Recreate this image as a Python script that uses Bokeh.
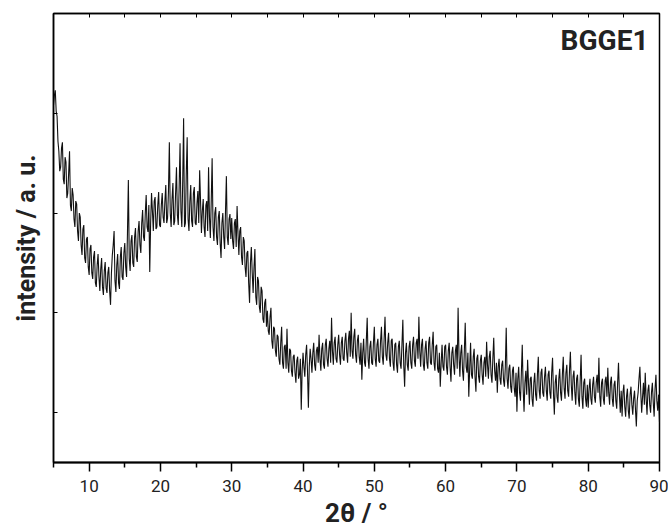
from bokeh.plotting import figure
from bokeh.models import Range1d, LinearAxis, FixedTicker, Label
from bokeh.embed import file_html
from bokeh.resources import INLINE

# sampling grid of the pattern (degrees 2-theta)
two_theta_start = 5.0
two_theta_step = 0.125

# intensity (arbitrary units) at 5.00, 5.25, 5.50 ... 90.00 deg
intensity_main = [
    358, 373, 347, 312, 296, 321, 279, 301, 270, 312, 252, 268, 236, 259, 222, 246, 208, 238, 200, 226,
    188, 218, 184, 212, 176, 209, 172, 205, 168, 201, 170, 196, 158, 208, 232, 171, 209, 174, 216, 183,
    220, 186, 283, 192, 228, 196, 235, 201, 242, 210, 253, 222, 268, 231, 191, 270, 232, 266, 236, 271,
    236, 270, 240, 278, 245, 321, 236, 280, 242, 296, 238, 320, 236, 345, 240, 326, 232, 278, 236, 276,
    238, 272, 293, 230, 264, 226, 262, 296, 225, 305, 222, 256, 218, 252, 205, 250, 214, 287, 218, 249,
    245, 214, 244, 257, 208, 236, 198, 222, 186, 212, 160, 216, 170, 214, 158, 182, 150, 172, 140, 164,
    152, 128, 155, 114, 134, 106, 126, 98, 136, 94, 118, 134, 90, 112, 86, 108, 80, 106, 88, 53,
    110, 86, 118, 55, 114, 90, 120, 92, 116, 128, 92, 120, 94, 124, 96, 122, 145, 98, 126, 100,
    128, 98, 126, 102, 130, 100, 132, 150, 104, 134, 100, 128, 98, 83, 124, 96, 145, 94, 122, 98,
    136, 96, 124, 100, 136, 98, 146, 102, 130, 96, 124, 92, 120, 90, 122, 94, 143, 76, 120, 92,
    122, 94, 126, 96, 124, 146, 96, 124, 92, 122, 94, 126, 98, 131, 92, 118, 90, 76, 118, 92,
    118, 88, 120, 81, 116, 88, 118, 155, 86, 118, 82, 140, 90, 66, 120, 84, 114, 71, 108, 80,
    108, 78, 106, 121, 84, 112, 80, 125, 82, 70, 104, 78, 102, 76, 135, 74, 98, 70, 96, 66,
    51, 96, 62, 118, 51, 92, 103, 58, 86, 56, 90, 62, 106, 64, 94, 66, 96, 62, 92, 64,
    105, 48, 88, 60, 94, 62, 106, 64, 98, 66, 111, 62, 92, 58, 88, 56, 108, 54, 84, 56,
    55, 84, 58, 86, 60, 88, 105, 56, 84, 58, 86, 95, 58, 86, 56, 82, 54, 100, 50, 46,
    78, 46, 74, 44, 76, 48, 72, 36, 70, 96, 50, 80, 90, 48, 78, 50, 80, 46, 88, 52, 40,
]

# intensity read at the points in between: 5.125, 5.375 ... 89.875 deg
intensity_between = [
    368, 352, 322, 292, 315, 284, 306, 265, 290, 258, 275, 244, 262, 232, 250, 218, 234, 205, 224, 196,
    214, 190, 206, 180, 198, 186, 194, 176, 192, 175, 190, 172, 190, 218, 182, 198, 180, 206, 186, 210,
    196, 230, 204, 222, 200, 226, 206, 232, 218, 240, 226, 250, 236, 258, 240, 252, 262, 234, 258, 238,
    258, 246, 262, 240, 272, 250, 264, 238, 270, 248, 276, 252, 282, 236, 290, 244, 262, 242, 270, 240,
    260, 240, 262, 252, 236, 258, 232, 246, 262, 236, 250, 226, 246, 220, 240, 226, 252, 226, 244, 224,
    222, 240, 216, 230, 232, 206, 226, 196, 210, 180, 200, 190, 196, 166, 186, 156, 176, 144, 160, 136,
    132, 146, 122, 136, 112, 128, 104, 120, 100, 116, 94, 100, 114, 92, 106, 90, 102, 84, 104, 92,
    96, 108, 92, 96, 104, 110, 98, 112, 100, 104, 114, 98, 118, 104, 114, 100, 112, 120, 104, 118,
    108, 120, 104, 122, 110, 124, 106, 112, 126, 108, 122, 106, 120, 110, 100, 122, 104, 116, 100, 120,
    104, 118, 102, 122, 106, 124, 108, 120, 104, 122, 100, 118, 98, 116, 100, 118, 98, 110, 98, 116,
    100, 118, 102, 120, 104, 112, 118, 98, 114, 100, 120, 100, 118, 100, 116, 94, 110, 100, 96, 116,
    96, 112, 96, 110, 98, 112, 94, 108, 110, 92, 112, 96, 110, 94, 88, 106, 86, 104, 86, 102,
    88, 100, 86, 98, 106, 88, 104, 92, 100, 96, 84, 98, 82, 96, 84, 94, 76, 92, 74, 90,
    84, 70, 90, 74, 80, 68, 80, 84, 64, 80, 68, 88, 72, 90, 70, 86, 72, 88, 70, 90,
    70, 80, 66, 84, 70, 88, 74, 90, 72, 92, 78, 86, 70, 84, 64, 82, 66, 80, 64, 78,
    74, 64, 78, 66, 80, 70, 66, 80, 64, 82, 66, 70, 80, 64, 78, 62, 80, 68, 72, 70,
    56, 66, 52, 68, 58, 64, 54, 62, 84, 70, 66, 58, 64, 72, 58, 70, 60, 74, 62, 68,
]

x_major_ticks = [10, 20, 30, 40, 50, 60, 70, 80, 90]
x_minor_ticks = [5, 15, 25, 35, 45, 55, 65, 75, 85]
top_ticks = [5, 10, 15, 20, 25, 30, 35, 40, 45, 50, 55, 60, 65, 70, 75, 80, 85, 90]
y_ticks = [50, 150, 250, 350, 450]

# merge both readings in order of angle
intensity = []
for a, b in zip(intensity_main, intensity_between):
    intensity.extend([a, b])
intensity.append(intensity_main[-1])
two_theta = [two_theta_start + i * two_theta_step for i in range(len(intensity))]

FONT = "Roboto"
INK = "#222222"

p = figure(width=668, height=530, output_backend="svg", toolbar_location=None,
           x_range=Range1d(5, 90), y_range=Range1d(0, 450),
           min_border_left=53, min_border_right=9, min_border_top=13, min_border_bottom=66)
p.grid.visible = False
p.outline_line_color = "black"
p.outline_line_width = 1.5
p.background_fill_color = "white"
p.border_fill_color = "white"

p.line(two_theta, intensity, line_color="#111111", line_width=1.1)

# bottom axis
xa = p.xaxis[0]
xa.ticker = FixedTicker(ticks=x_major_ticks, minor_ticks=x_minor_ticks)
xa.major_tick_in = 0
xa.major_tick_out = 9
xa.minor_tick_in = 0
xa.minor_tick_out = 5
xa.axis_line_width = 2
xa.major_tick_line_width = 1.5
xa.minor_tick_line_width = 1.5
xa.major_label_text_font = FONT
xa.major_label_text_font_size = "17px"
xa.major_label_text_color = INK
xa.major_label_standoff = 8
xa.axis_label = "2θ / °"
xa.axis_label_text_font = FONT
xa.axis_label_text_font_size = "26px"
xa.axis_label_text_font_style = "bold"
xa.axis_label_text_color = INK
xa.axis_label_standoff = 3

# left axis
ya = p.yaxis[0]
ya.ticker = FixedTicker(ticks=y_ticks)
ya.major_tick_in = 4
ya.major_tick_out = 0
ya.minor_tick_in = 0
ya.minor_tick_out = 0
ya.axis_line_width = 1.5
ya.major_label_text_font_size = "1px"
ya.major_label_text_color = None
ya.major_label_standoff = 0
ya.axis_label = "intensity / a. u."
ya.axis_label_text_font = FONT
ya.axis_label_text_font_size = "25px"
ya.axis_label_text_font_style = "bold"
ya.axis_label_text_color = INK
ya.axis_label_standoff = 13

# top axis with inward ticks
ta = LinearAxis(ticker=FixedTicker(ticks=top_ticks))
ta.major_tick_in = 4
ta.major_tick_out = 0
ta.minor_tick_in = 0
ta.minor_tick_out = 0
ta.axis_line_width = 1.5
ta.major_label_text_font_size = "1px"
ta.major_label_text_color = None
ta.major_label_standoff = 0
p.add_layout(ta, "above")

p.add_layout(Label(x=88.45, y=423, text="BGGE1", text_align="right", text_baseline="alphabetic",
                   text_font=FONT, text_font_size="28px", text_font_style="bold",
                   text_color=INK))

open("out.html", "w").write(file_html(p, INLINE))
